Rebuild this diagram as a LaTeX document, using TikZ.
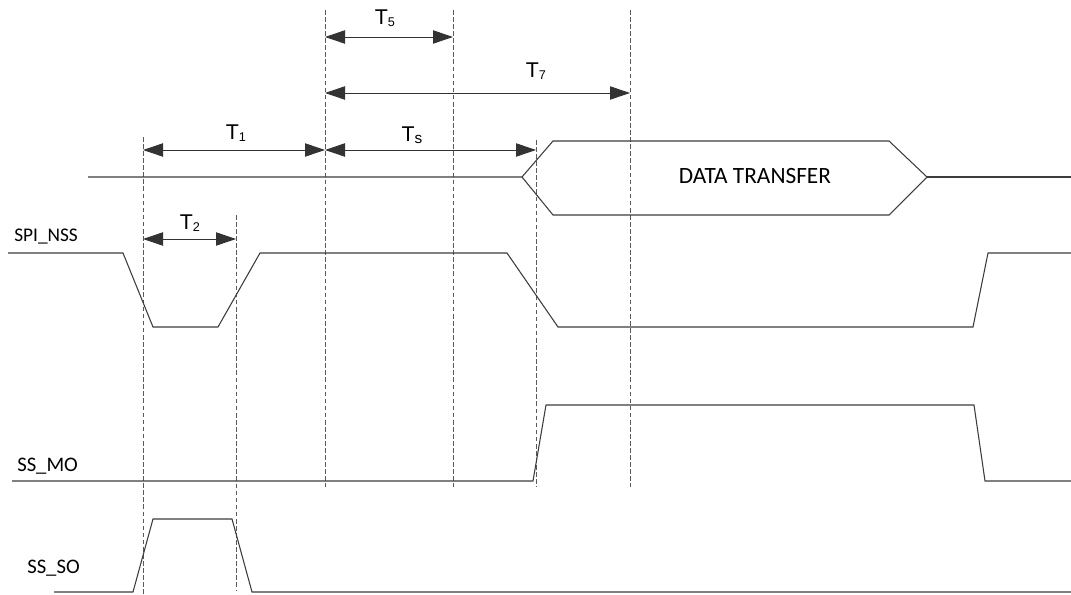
\documentclass[tikz,border=0pt]{standalone}
\usepackage{fontspec}
\setmainfont{Liberation Sans}
\newfontfamily\calib{Carlito}
\usepackage{tikz}
\usetikzlibrary{arrows.meta,positioning}
\definecolor{sigline}{RGB}{60,60,60}
\definecolor{guideline}{RGB}{90,90,90}
% subscript of a timing label
\newcommand{\tsub}[2][9.5]{{\fontsize{#1}{#1}\selectfont\raisebox{-1.3pt}{#2}}}
\tikzset{
  signal/.style={draw=sigline, line width=0.8pt, line join=miter},
  guide/.style={draw=guideline, line width=0.7pt, dash pattern=on 3.5pt off 1.8pt},
  dimline/.style={draw=black!80, line width=0.7pt, {Triangle[length=15pt,width=10pt]}-{Triangle[length=15pt,width=10pt]}},
  tlabel/.style={anchor=base, inner sep=0pt, font=\fontsize{16}{17}\selectfont},
  siglabel/.style={anchor=base west, inner sep=0pt, font=\calib\fontsize{15.5}{17}\selectfont}
}
\begin{document}
\begin{tikzpicture}[x=0.75pt, y=-0.75pt]
  \useasboundingbox (0,0) rectangle (1071,595);

  %--- Time markers (top and bottom of the dashed guides) ---
  \coordinate (mA) at (143,137); \coordinate (mAb) at (143,595);
  \coordinate (mB) at (236,215); \coordinate (mBb) at (236,590);
  \coordinate (mC) at (325,10);  \coordinate (mCb) at (325,487);
  \coordinate (mD) at (453,10);  \coordinate (mDb) at (453,487);
  \coordinate (mE) at (536,140); \coordinate (mEb) at (536,487);
  \coordinate (mF) at (630,10);  \coordinate (mFb) at (630,487);

  % Rows of the dimension arrows
  \coordinate (rT5) at (0,37);
  \coordinate (rT7) at (0,93);
  \coordinate (rTs) at (0,150);
  \coordinate (rT2) at (0,239);

  \draw[guide] (mA) -- (mAb);
  \draw[guide] (mB) -- (mBb);
  \draw[guide] (mC) -- (mCb);
  \draw[guide] (mD) -- (mDb);
  \draw[guide] (mE) -- (mEb);
  \draw[guide] (mF) -- (mFb);

  %--- Data bus ---
  \draw[signal] (88,177) -- (522,177) -- (553,141) -- (889,141) -- (927,177) -- (889,215) -- (553,215) -- (522,177);
  \draw[signal] (927,177) -- (1071,177);
  \node[anchor=base, inner sep=0pt, font=\calib\fontsize{17.5}{19}\selectfont] (data) at (755,184) {DATA TRANSFER};

  %--- SPI_NSS ---
  \node[siglabel, font=\calib\fontsize{14.5}{16}\selectfont] (nss) at (14,242) {SPI\_NSS};
  \draw[signal] (8,253) -- (123,253) -- (153,327) -- (218,327) -- (260,253) -- (507,253) -- (558,327) -- (973,327) -- (988,253) -- (1071,253);

  %--- SS_MO ---
  \node[siglabel] (mo) at (17,471) {SS\_MO};
  \draw[signal] (12,481) -- (533,481) -- (546,405) -- (974,405) -- (985,481) -- (1071,481);

  %--- SS_SO ---
  \node[siglabel] (so) at (27,573) {SS\_SO};
  \draw[signal] (54,592) -- (133,592) -- (153,519) -- (232,519) -- (252,592) -- (1071,592);

  %--- Timing arrows ---
  \draw[dimline] (mC |- rT5) -- (mD |- rT5);
  \node[tlabel] (t5) at (385,25) {T\tsub{5}};

  \draw[dimline] (mC |- rT7) -- (mF |- rT7);
  \node[tlabel] (t7) at (536,78) {T\tsub{7}};

  \draw[dimline] (mA |- rTs) -- (mC |- rTs);
  \node[tlabel] (t1) at (236,140) {T\tsub{1}};

  \draw[dimline] (mC |- rTs) -- (mE |- rTs);
  \node[tlabel] (ts) at (412,142) {T\tsub[11.5]{s}};

  \draw[dimline] (mA |- rT2) -- (mB |- rT2);
  \node[tlabel] (t2) at (190,230) {T\tsub{2}};
\end{tikzpicture}
\end{document}
